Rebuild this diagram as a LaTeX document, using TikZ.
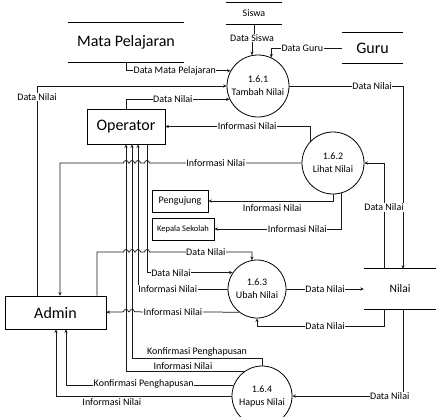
\documentclass[tikz,border=0pt]{standalone}
\usepackage{fontspec}
\setmainfont{Carlito}
\usetikzlibrary{arrows.meta}
\begin{document}
\begin{tikzpicture}[x=1pt,y=-1pt,
  flow/.style={draw=black!90, line width=0.75pt},
  arr/.style={flow, -{Stealth[length=3.5pt,width=3.2pt]}},
  lbl/.style={font=\fontsize{10}{12}\selectfont, fill=white, inner sep=0.6pt},
  lblplain/.style={font=\fontsize{10}{12}\selectfont, inner sep=0.6pt},
  entity/.style={draw, line width=0.8pt, font=\fontsize{16}{19}\selectfont, inner sep=0pt},
  sentity/.style={draw, line width=0.8pt, font=\fontsize{10}{12}\selectfont, inner sep=0pt},
  proc/.style={draw, circle, line width=0.8pt, inner sep=0pt, align=center, font=\fontsize{10}{13}\selectfont},
  store/.style={inner sep=0pt},
  hop/.style={radius=2.5}
]
\useasboundingbox (0,0) rectangle (439,416);

% external entities
\node[entity, minimum width=78pt, minimum height=35pt] (operator) at (126,126.5) {Operator};
\node[entity, minimum width=101pt, minimum height=33pt] (admin) at (55.5,312.5) {Admin};
\node[sentity, minimum width=56pt, minimum height=22pt] (peng) at (180,201) {Pengujung};
\node[sentity, minimum width=62pt, minimum height=22pt, font=\fontsize{8.5}{10}\selectfont] (kep) at (183,229) {Kepala Sekolah};

% processes
\node[proc, minimum size=62pt] (c1) at (258,86) {1.6.1\\Tambah Nilai};
\node[proc, minimum size=62pt] (c2) at (333,163) {1.6.2\\Lihat Nilai};
\node[proc, minimum size=58pt] (c3) at (257,289) {1.6.3\\Ubah Nilai};
\node[proc, minimum size=60pt] (c4) at (262,396) {1.6.4\\Hapus Nilai};

% data stores
\node[store, minimum width=116pt, minimum height=39pt, font=\fontsize{16}{19}\selectfont] (mp) at (126,42.5) {Mata Pelajaran};
\node[store, minimum width=56pt, minimum height=21pt, font=\fontsize{10}{12}\selectfont] (siswa) at (254,13.5) {Siswa};
\node[store, minimum width=61pt, minimum height=30pt, font=\fontsize{16}{19}\selectfont] (guru) at (372.5,48) {Guru};
\node[store, minimum width=72pt, minimum height=40pt, font=\fontsize{11.5}{14}\selectfont] (nilai) at (400,289) {Nilai};
\foreach \s in {mp,siswa,guru,nilai}
  \draw[line width=0.8pt] (\s.north west) -- (\s.north east) (\s.south west) -- (\s.south east);

% vertical lanes
\coordinate (xa) at (37,0);
\coordinate (xb) at (60,0);
\coordinate (xc) at (97,0);
\coordinate (xd) at (56,0);
\coordinate (xe) at (66,0);
\coordinate (xo1) at (126,0);
\coordinate (xo2) at (132,0);
\coordinate (xo3) at (138,0);
\coordinate (xo4) at (147,0);
\coordinate (xn1) at (384,0);
\coordinate (xn2) at (403,0);

% 1.6.1 Tambah Nilai
\draw[arr] (siswa.south) -- ++(0,14) -| node[lbl,pos=0.5]{Data Siswa} (c1.101);
\draw[arr] (guru.west) -| node[lbl,pos=0.28]{Data Guru} (c1.65);
\draw[arr] (mp.south) |- node[lbl,pos=0.733]{Data Mata Pelajaran} (c1.151);
\draw[arr] (admin.north -| xa) |- node[lbl,pos=0.474]{Data Nilai} (c1.west);
\draw[arr] (operator.north) |- node[lbl,pos=0.726]{Data Nilai} (c1.205);
\draw[arr] (c1.east) -| node[lbl,pos=0.364]{Data Nilai} (nilai.north -| xn2);

% 1.6.2 Lihat Nilai
\draw[arr] (c2.135) |- node[lbl,pos=0.719]{Informasi Nilai} (operator.east);
\draw[arr] (nilai.north -| xn1) |- node[lbl,pos=0.29]{Data Nilai} (c2.east);
\draw[arr] (c2.west) -- node[lbl,pos=0.564]{Informasi Nilai} (149.5,163)
  arc[start angle=0,end angle=-180,hop] -- (140.5,163)
  arc[start angle=0,end angle=-180,hop] -- (134.5,163)
  arc[start angle=0,end angle=-180,hop] -- (128.5,163)
  arc[start angle=0,end angle=-180,hop] -- (60,163) -- (admin.north -| xb);
\draw[arr] (c2.south) |- node[lblplain,pos=0.744,below=2.5pt]{Informasi Nilai} (peng.east);
\draw[arr] (c2.285) |- node[lbl,pos=0.673]{Informasi Nilai} (kep.east);

% 1.6.3 Ubah Nilai
\draw[arr] (admin.north -| xc) -- (97,252) -- (123.5,252)
  arc[start angle=180,end angle=360,hop] -- (129.5,252)
  arc[start angle=180,end angle=360,hop] -- (135.5,252)
  arc[start angle=180,end angle=360,hop] -- (144.5,252)
  arc[start angle=180,end angle=360,hop] -- node[lbl,pos=0.55]{Data Nilai} (252,252) -- (c3.100);
\draw[arr] (operator.south -| xo4) |- node[lbl,pos=0.64]{Data Nilai} (c3.146);
\draw[arr] (c3.west) -| node[lbl,pos=0.334]{Informasi Nilai} (operator.south -| xo3);
\draw[arr] (c3.232) -- node[lbl,pos=0.632]{Informasi Nilai} (134.5,311.85)
  arc[start angle=0,end angle=-180,hop] -- (128.5,311.85)
  arc[start angle=0,end angle=-180,hop] -- (admin.east |- c3.232);
\draw[arr] (nilai.south -| xn1) -- ++(0,17) -| node[lbl,pos=0.232]{Data Nilai} (c3.south);
\draw[arr] (c3.east) -- node[lbl]{Data Nilai} (nilai.west);

% 1.6.4 Hapus Nilai
\draw[arr] (nilai.south -| xn2) |- node[lbl,pos=0.56]{Data Nilai} (c4.east);
\draw[arr] (c4.north) -- ++(0,-7) -| node[lblplain,pos=0.25,above=1pt]{Konfirmasi Penghapusan} (operator.south -| xo2);
\draw[arr] (c4.127) -| node[lblplain,pos=0.258,above=1pt]{Informasi Nilai} (operator.south -| xo1);
\draw[arr] (c4.160) -| node[lbl,pos=0.268,yshift=1.5pt]{Konfirmasi Penghapusan} (admin.south -| xe);
\draw[arr] (c4.west) -| node[lblplain,pos=0.341,below=1.5pt]{Informasi Nilai} (admin.south -| xd);
\end{tikzpicture}
\end{document}
